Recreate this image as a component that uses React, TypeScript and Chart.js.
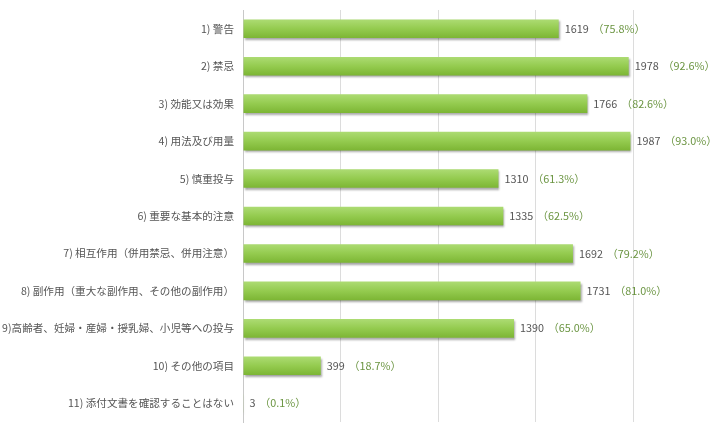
import React, { useEffect, useRef } from "react";
import { Chart, registerables } from "chart.js";

Chart.register(...registerables);

const categories = [
  "1) 警告",
  "2) 禁忌",
  "3) 効能又は効果",
  "4) 用法及び用量",
  "5) 慎重投与",
  "6) 重要な基本的注意",
  "7) 相互作用（併用禁忌、併用注意）",
  "8) 副作用（重大な副作用、その他の副作用）",
  "9)高齢者、妊婦・産婦・授乳婦、小児等への投与",
  "10) その他の項目",
  "11) 添付文書を確認することはない",
];

const counts = [1619, 1978, 1766, 1987, 1310, 1335, 1692, 1731, 1390, 399, 3];

const percents = ["75.8", "92.6", "82.6", "93.0", "61.3", "62.5", "79.2", "81.0", "65.0", "18.7", "0.1"];

const FONT = '"Noto Sans CJK JP", "Noto Sans", sans-serif';

const barShadow = {
  id: "barShadow",
  beforeDatasetDraw(chart: any) {
    const ctx = chart.ctx;
    ctx.save();
    ctx.shadowColor = "rgba(0,0,0,0.35)";
    ctx.shadowBlur = 2;
    ctx.shadowOffsetX = 1;
    ctx.shadowOffsetY = 2;
  },
  afterDatasetDraw(chart: any) {
    chart.ctx.restore();
  },
};

const valueLabels = {
  id: "valueLabels",
  afterDatasetsDraw(chart: any) {
    const ctx = chart.ctx;
    const meta = chart.getDatasetMeta(0);
    ctx.save();
    ctx.font = `10.8px ${FONT}`;
    ctx.textBaseline = "middle";
    ctx.textAlign = "left";
    meta.data.forEach((bar: any, i: number) => {
      const x = bar.x + 6;
      const y = bar.y;
      const v = String(counts[i]);
      ctx.fillStyle = "#555555";
      ctx.fillText(v, x, y);
      const w = ctx.measureText(v).width;
      ctx.fillStyle = "#6a9440";
      ctx.fillText(`（${percents[i]}%）`, x + w + 4, y);
    });
    ctx.restore();
  },
};

export default function App() {
  const ref = useRef<HTMLCanvasElement>(null);

  useEffect(() => {
    if (!ref.current) return;
    const chart = new Chart(ref.current, {
      type: "bar",
      data: {
        labels: categories,
        datasets: [
          {
            data: counts,
            backgroundColor: (c: any) => {
              const ch = c.chart;
              const ys = ch.scales && ch.scales.y;
              if (!ys || c.dataIndex === undefined) return "#94c951";
              const cy = ys.getPixelForValue(c.dataIndex);
              if (!Number.isFinite(cy)) return "#94c951";
              const g = ch.ctx.createLinearGradient(0, cy - 9, 0, cy + 9);
              g.addColorStop(0, "#acdb72");
              g.addColorStop(0.5, "#94cb4f");
              g.addColorStop(1, "#7db635");
              return g;
            },
            borderWidth: 0,
            barPercentage: 0.62,
            categoryPercentage: 0.8,
          },
        ],
      },
      options: {
        indexAxis: "y",
        animation: false,
        responsive: false,
        maintainAspectRatio: false,
        layout: { padding: { top: 10, right: 77, bottom: 7, left: 0 } },
        plugins: {
          legend: { display: false },
          tooltip: { enabled: false },
        },
        scales: {
          x: {
            min: 0,
            max: 2000,
            ticks: { display: false, stepSize: 500 },
            grid: { color: "#dcdcdc", drawTicks: false, lineWidth: 1 },
            border: { display: false },
            afterFit: (axis: any) => {
              axis.height = 0;
              axis.paddingLeft = 0;
              axis.paddingRight = 0;
            },
          },
          y: {
            grid: { display: false, drawTicks: false },
            border: { display: true, color: "#c8c8c8" },
            ticks: {
              color: "#555555",
              padding: 9,
              font: { family: FONT, size: 10.6 },
              autoSkip: false,
            },
            afterFit: (axis: any) => {
              axis.width = 243;
              axis.paddingTop = 0;
              axis.paddingBottom = 0;
            },
          },
        },
      },
      plugins: [barShadow, valueLabels],
    });
    return () => chart.destroy();
  }, []);

  return (
    <div style={{ position: "fixed", left: 0, top: 0, width: 710, height: 429, background: "#ffffff" }}>
      <canvas ref={ref} width={710} height={429} style={{ width: 710, height: 429, display: "block" }} />
    </div>
  );
}
